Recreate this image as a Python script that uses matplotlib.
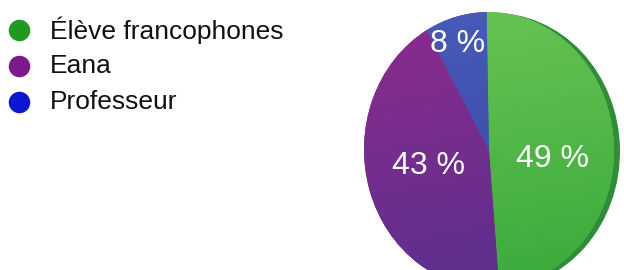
import numpy as np
import matplotlib
matplotlib.use("Agg")
import matplotlib.pyplot as plt
from matplotlib.colors import LinearSegmentedColormap
from matplotlib.patches import Ellipse
from matplotlib.transforms import Affine2D

categories = ["Élève francophones", "Eana", "Professeur"]
values = [49, 43, 8]
pct_labels = ["49 %", "43 %", "8 %"]
legend_colors = ["#1f9a1f", "#7b1a8c", "#0a16d2"]
# top / bottom shading of each slice
slice_top = ["#6cc654", "#902b8d", "#4a5cb8"]
slice_bottom = ["#36a83a", "#55308e", "#3445a8"]

plt.rcParams['font.family'] = ['Liberation Sans', 'DejaVu Sans']

fig = plt.figure(figsize=(6.24, 2.70), dpi=100)
ax = fig.add_axes([0, 0, 1, 1])

cx, cy = 489, 120
ra, rb, tilt = 125, 138, 1

shape = Affine2D().scale(ra, rb).rotate_deg(tilt).translate(cx, cy)

# dark rim / side of the disc
rim = Ellipse((0, 0), 2, 2, color="#2f8d3a", linewidth=0, zorder=1)
rim.set_transform(shape + Affine2D().translate(6, -1) + ax.transData)
ax.add_patch(rim)

wedges, _ = ax.pie(values, colors=slice_top, startangle=90, counterclock=False,
                   center=(0, 0), radius=1, frame=True,
                   wedgeprops=dict(linewidth=0, zorder=2))
for w in wedges:
    w.set_transform(shape + ax.transData)

for w, ct, cb in zip(wedges, slice_top, slice_bottom):
    cmap = LinearSegmentedColormap.from_list("g", [cb, ct])
    grad = np.linspace(0, 1, 256).reshape(-1, 1)
    grad = grad * 0.85 + 0.15 * np.linspace(1, 0, 256).reshape(1, -1)
    im = ax.imshow(grad, cmap=cmap, origin='lower', aspect='auto',
                   extent=(cx - 150, cx + 150, cy - 150, cy + 150), zorder=3)
    im.set_clip_path(w)

ax.set_xlim(0, 624)
ax.set_ylim(0, 270)
ax.set_aspect('auto')
ax.axis('off')

label_pos = [(552, 111), (429, 104), (458, 226)]
for (x, y), t in zip(label_pos, pct_labels):
    ax.text(x, y, t, color="white", fontsize=23, ha='center', va='center', zorder=5)

# legend
leg_y = [240, 204, 168]
for c, name, y in zip(legend_colors, categories, leg_y):
    ax.scatter([19], [y], s=240, color=c, zorder=5, linewidths=0)
    ax.text(50, y, name, fontsize=19, va='center', ha='left', color="#111111")

fig.savefig("out.png", dpi=100)
